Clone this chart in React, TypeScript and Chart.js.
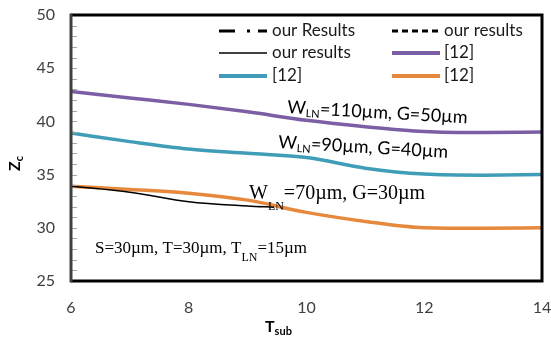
import React, { useEffect, useRef } from "react";
import { Chart, registerables } from "chart.js";
Chart.register(...registerables);

// ---- data ----
const tsub = [6, 7, 8, 9, 10, 11, 12, 13, 14];
const purpleZ = [42.8, 42.2, 41.6, 40.9, 40.1, 39.5, 39.05, 38.95, 39.0];
const tealZ = [38.9, 38.1, 37.4, 37.0, 36.6, 35.6, 35.05, 34.95, 35.0];
const orangeZ = [33.9, 33.6, 33.25, 32.6, 31.45, 30.6, 30.0, 29.95, 30.0];
const blackT = [6, 7, 8, 9, 9.45];
const blackZ = [33.9, 33.35, 32.45, 32.05, 31.93];
const legendLabels = ["our Results", "our results", "our results", "[12]", "[12]", "[12]"];
const xTicks = [6, 8, 10, 12, 14];
const yTicks = [25, 30, 35, 40, 45, 50];

const SANS = "Lato, 'Open Sans', sans-serif";
const SERIF = "'Liberation Serif', 'DejaVu Serif', serif";

type Part = [string, string, number];

function drawRich(ctx: CanvasRenderingContext2D, x: number, y: number, parts: Part[], angle = 0, color = "#000") {
  ctx.save();
  ctx.translate(x, y);
  ctx.rotate(angle);
  ctx.fillStyle = color;
  ctx.textBaseline = "alphabetic";
  ctx.textAlign = "left";
  let cx = 0;
  for (const [t, f, dy] of parts) {
    ctx.font = f;
    ctx.fillText(t, cx, dy);
    cx += ctx.measureText(t).width;
  }
  ctx.restore();
}

const extras = {
  id: "extras",
  afterDraw(chart: any) {
    const ctx: CanvasRenderingContext2D = chart.ctx;
    const { left, right, top, bottom } = chart.chartArea;
    const ys = chart.scales.y;
    // minor ticks on y axis
    ctx.save();
    ctx.strokeStyle = "#a6a6a6";
    ctx.lineWidth = 1;
    for (let v = 26; v < 50; v++) {
      const py = Math.round(ys.getPixelForValue(v)) + 0.5;
      ctx.beginPath();
      ctx.moveTo(left, py);
      ctx.lineTo(left + 6, py);
      ctx.stroke();
    }
    ctx.restore();
    // border
    ctx.save();
    ctx.lineWidth = 3;
    ctx.strokeStyle = "#000";
    ctx.beginPath();
    ctx.moveTo(left, top);
    ctx.lineTo(right, top);
    ctx.lineTo(right, bottom);
    ctx.lineTo(left, bottom);
    ctx.stroke();
    ctx.strokeStyle = "#404040";
    ctx.beginPath();
    ctx.moveTo(left, top - 1.5);
    ctx.lineTo(left, bottom + 1.5);
    ctx.stroke();
    ctx.restore();

    // legend
    const ds = chart.data.datasets;
    const cols = [
      { lx: 219, tx: 272 },
      { lx: 392, tx: 444 },
    ];
    const rowsY = [31, 53, 76];
    ds.forEach((d: any, i: number) => {
      const c = cols[i % 2];
      const ry = rowsY[Math.floor(i / 2)];
      ctx.save();
      ctx.strokeStyle = d.borderColor;
      ctx.lineWidth = d.legendWidth;
      ctx.setLineDash(d.borderDash || []);
      ctx.beginPath();
      ctx.moveTo(c.lx, ry);
      ctx.lineTo(c.lx + 48, ry);
      ctx.stroke();
      ctx.restore();
      ctx.save();
      ctx.font = `17px ${SANS}`;
      ctx.fillStyle = "#1a1a1a";
      ctx.textBaseline = "middle";
      ctx.fillText(d.label, c.tx, ry);
      ctx.restore();
    });

    // annotations
    const ang = (3.3 * Math.PI) / 180;
    drawRich(ctx, 287, 113, [
      ["W", `18px ${SANS}`, 0],
      ["LN", `11px ${SANS}`, 3],
      ["=110\u00b5m, G=50\u00b5m", `18px ${SANS}`, 0],
    ], ang, "#000");
    drawRich(ctx, 278, 148, [
      ["W", `18px ${SANS}`, 0],
      ["LN", `11px ${SANS}`, 3],
      ["=90\u00b5m, G=40\u00b5m", `18px ${SANS}`, 0],
    ], ang, "#000");
    drawRich(ctx, 249, 199, [
      ["W", `20px ${SERIF}`, 0],
      ["LN", `12px ${SERIF}`, 11],
      ["=70\u00b5m, G=30\u00b5m", `20px ${SERIF}`, 0],
    ], 0, "#000");
    drawRich(ctx, 95, 253, [
      ["S=30\u00b5m, T=30\u00b5m, T", `17px ${SERIF}`, 0],
      ["LN", `12px ${SERIF}`, 8],
      ["=15\u00b5m", `17px ${SERIF}`, 0],
    ], 0, "#000");

    // axis titles
    drawRich(ctx, 265, 332, [
      ["T", `bold 16px ${SANS}`, 0],
      ["sub", `bold 11px ${SANS}`, 3],
    ], 0, "#000");
    drawRich(ctx, 20, 171, [
      ["Z", `bold 16px ${SANS}`, 0],
      ["c", `bold 11px ${SANS}`, 3],
    ], -Math.PI / 2, "#000");
  },
};

const zeroPad = (s: any) => {
  s.paddingTop = 0;
  s.paddingBottom = 0;
  s.paddingLeft = 0;
  s.paddingRight = 0;
};

export default function App() {
  const ref = useRef<HTMLCanvasElement | null>(null);
  useEffect(() => {
    document.body.style.margin = "0";
    if (!ref.current) return;
    const pts = (xs: number[], ys: number[]) => xs.map((x, i) => ({ x, y: ys[i] }));
    const chart = new Chart(ref.current, {
      type: "line",
      data: {
        datasets: [
          { label: legendLabels[0], data: [], borderColor: "#000", borderWidth: 2.5, borderDash: [16, 12, 3, 8], legendWidth: 3 } as any,
          { label: legendLabels[1], data: [], borderColor: "#000", borderWidth: 2.5, borderDash: [6, 4], legendWidth: 3 } as any,
          { label: legendLabels[2], data: pts(blackT, blackZ), borderColor: "#000", borderWidth: 1.5, legendWidth: 1.5 } as any,
          { label: legendLabels[3], data: pts(tsub, purpleZ), borderColor: "#7b5ea3", borderWidth: 3.5, legendWidth: 4 } as any,
          { label: legendLabels[4], data: pts(tsub, tealZ), borderColor: "#3f9db8", borderWidth: 3.5, legendWidth: 4 } as any,
          { label: legendLabels[5], data: pts(tsub, orangeZ), borderColor: "#e6893d", borderWidth: 3.5, legendWidth: 4 } as any,
        ],
      },
      options: {
        animation: false,
        responsive: false,
        events: [],
        layout: { padding: { top: 15, right: 9, left: 0, bottom: 0 } },
        elements: {
          point: { radius: 0 },
          line: { tension: 0.4, cubicInterpolationMode: "monotone", fill: false },
        },
        plugins: { legend: { display: false }, tooltip: { enabled: false }, title: { display: false } },
        scales: {
          x: {
            type: "linear",
            min: 6,
            max: 14,
            afterBuildTicks: (s: any) => { s.ticks = xTicks.map((v) => ({ value: v })); },
            ticks: { color: "#404040", font: { family: SANS, size: 16 }, padding: 17, maxRotation: 0 },
            grid: { display: false, drawTicks: false },
            border: { display: false },
            afterFit: (s: any) => { s.height = 66; zeroPad(s); },
          },
          y: {
            min: 25,
            max: 50,
            afterBuildTicks: (s: any) => { s.ticks = yTicks.map((v) => ({ value: v })); },
            ticks: { color: "#404040", font: { family: SANS, size: 16 }, padding: 16 },
            grid: { display: false, drawTicks: false },
            border: { display: false },
            afterFit: (s: any) => { s.width = 71; zeroPad(s); },
          },
        },
      } as any,
      plugins: [extras],
    });
    return () => chart.destroy();
  }, []);
  return (
    <div style={{ position: "absolute", left: 0, top: 0, width: 551, height: 347, background: "#fff" }}>
      <canvas ref={ref} width={551} height={347} style={{ display: "block" }} />
    </div>
  );
}
